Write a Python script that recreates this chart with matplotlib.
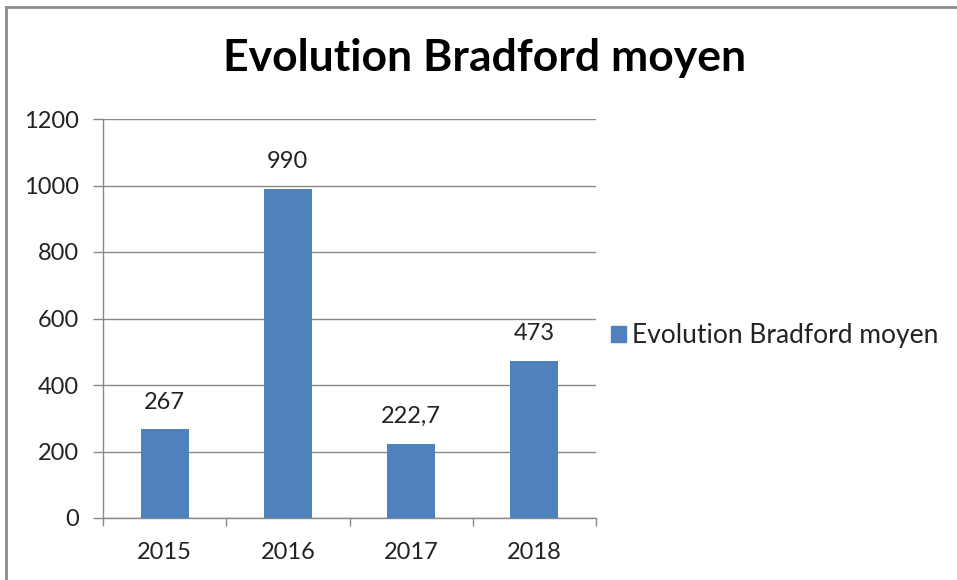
import numpy as np
import matplotlib
matplotlib.use("Agg")
from matplotlib import pyplot as plt
from matplotlib.lines import Line2D

plt.rcParams['font.family'] = ['Lato', 'DejaVu Sans']

years = ["2015", "2016", "2017", "2018"]
values = [267, 990, 222.7, 473]
value_labels = ["267", "990", "222,7", "473"]
series_name = "Evolution Bradford moyen"

bar_color = '#4F81BD'
grid_color = '#888888'

fig = plt.figure(figsize=(9.57, 5.8), dpi=100)
ax = fig.add_axes([103 / 957, 62 / 580, 493 / 957, 399 / 580])

x = np.arange(len(years))
bars = ax.bar(x, values, width=0.39, color=bar_color, label=series_name, zorder=3)

ax.set_xlim(-0.5, 3.5)
ax.set_ylim(0, 1200)
ax.set_yticks(range(0, 1201, 200))
ax.yaxis.grid(True, color=grid_color, linewidth=1, zorder=0)

# category ticks sit between the bars, labels in the middle
ax.set_xticks(np.arange(-0.5, 4, 1))
ax.set_xticklabels([])
ax.set_xticks(x, minor=True)
ax.set_xticklabels(years, minor=True, fontsize=17, color='#222222')
ax.tick_params(axis='x', which='major', direction='out', length=6, color=grid_color, width=1)
ax.tick_params(axis='x', which='minor', length=0, pad=17)
ax.tick_params(axis='y', direction='out', length=7.5, color=grid_color, width=1,
               labelsize=17, labelcolor='#222222', pad=10)

for s in ['top', 'right']:
    ax.spines[s].set_visible(False)
for s in ['left', 'bottom']:
    ax.spines[s].set_color(grid_color)
    ax.spines[s].set_linewidth(1)

for b, lab in zip(bars, value_labels):
    ax.annotate(lab, (b.get_x() + b.get_width() / 2, b.get_height()),
                xytext=(0, 12), textcoords='offset points', ha='center', va='bottom',
                fontsize=17, color='#222222')

fig.text(485 / 957, 1 - 58 / 580, series_name, ha='center', va='center',
         fontsize=32, fontweight='bold', color='black')

handle = plt.Rectangle((0, 0), 1, 1, color=bar_color)
fig.legend([handle], [series_name], loc='center left', bbox_to_anchor=(611 / 957, 1 - 336 / 580),
           frameon=False, fontsize=19, handlelength=0.55, handleheight=0.55, handletextpad=0.25,
           borderaxespad=0, borderpad=0, labelcolor='#222222')

# chart border (left and top only visible in the crop)
fig.add_artist(Line2D([5.5 / 957, 5.5 / 957], [0, 1 - 7 / 580], color='#8c8c8c', linewidth=2,
                      transform=fig.transFigure))
fig.add_artist(Line2D([5.5 / 957, 1], [1 - 7 / 580, 1 - 7 / 580], color='#8c8c8c', linewidth=2,
                      transform=fig.transFigure))

fig.savefig("out.png", dpi=100)
